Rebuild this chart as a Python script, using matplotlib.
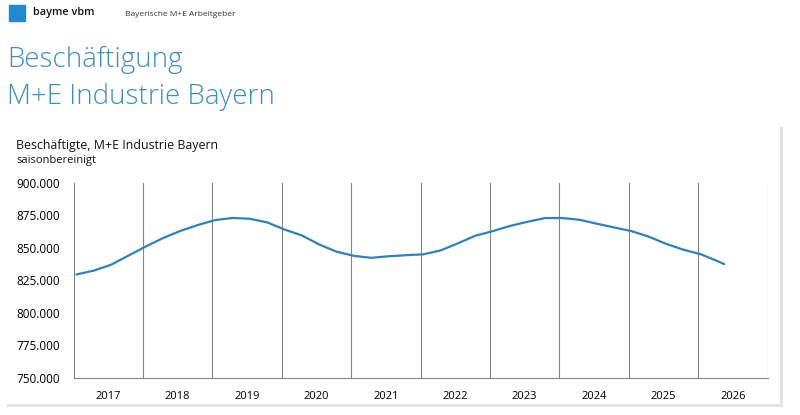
import matplotlib
matplotlib.use("Agg")
import matplotlib.pyplot as plt
import matplotlib.patches as mpatches
import numpy as np

plt.rcParams["font.family"] = ["Open Sans", "DejaVu Sans"]

C_LINE = "#2F80BB"
C_TITLE = "#3F8DBF"
C_LOGO = "#1F8AD2"
C_GRID = "#858585"

# quarterly readings, month index counted from Jan 2017
months = [0, 3, 6, 9, 12, 15, 18, 21, 24, 27, 30, 33, 36, 39, 42, 45, 48, 51, 54,
          57, 60, 63, 66, 69, 72, 75, 78, 81, 84, 87, 90, 93, 96, 99, 102, 105,
          108, 111, 112]
beschaeftigte = [829.5, 832.5, 837.0, 844.0, 851.0, 857.5, 863.0, 867.5, 871.3,
                 872.9, 872.3, 869.5, 864.0, 859.5, 852.5, 847.0, 843.8, 842.3,
                 843.5, 844.3, 845.0, 848.0, 853.5, 859.3, 862.8, 866.8, 870.0,
                 872.8, 872.9, 871.5, 868.5, 865.6, 862.8, 858.5, 853.0, 848.5,
                 845.0, 839.5, 837.5]  # in Tsd.
years = list(range(2017, 2027))
yticks = [750, 775, 800, 825, 850, 875, 900]

fig = plt.figure(figsize=(8, 4.15), dpi=100)
fig.patch.set_facecolor("white")

# header
fig.patches.append(mpatches.Rectangle((9 / 800, 1 - 21 / 415), 16 / 800, 16 / 415,
                                      transform=fig.transFigure, color=C_LOGO))
fig.text(33 / 800, 1 - 13 / 415, "bayme vbm", fontsize=7.8, fontweight="semibold",
         va="center", ha="left", color="#111111")
fig.text(125 / 800, 1 - 14 / 415, "Bayerische M+E Arbeitgeber", fontsize=6,
         va="center", ha="left", color="#333333")
fig.text(7 / 800, 1 - 60 / 415, "Beschäftigung", fontsize=20, fontweight="light",
         va="center", ha="left", color=C_TITLE)
fig.text(7 / 800, 1 - 97 / 415, "M+E Industrie Bayern", fontsize=20, fontweight="light",
         va="center", ha="left", color=C_TITLE)

# chart panel with soft shadow
fig.patches.append(mpatches.Rectangle((7 / 800, 1 - 407 / 415), 776 / 800, 280 / 415,
                                      transform=fig.transFigure, facecolor="#E4E4E4",
                                      edgecolor="none", zorder=-2))
fig.patches.append(mpatches.Rectangle((5 / 800, 1 - 404 / 415), 775 / 800, 279 / 415,
                                      transform=fig.transFigure, facecolor="white",
                                      edgecolor="none", zorder=-1))

fig.text(16 / 800, 1 - 145 / 415, "Beschäftigte, M+E Industrie Bayern", fontsize=8.9,
         va="center", ha="left", color="#111111")
fig.text(16 / 800, 1 - 160 / 415, "saisonbereinigt", fontsize=8,
         va="center", ha="left", color="#111111")

ax = fig.add_axes([73.5 / 800, 1 - 378 / 415, 694 / 800, 195.3 / 415])
ax.set_zorder(2)
ax.set_facecolor("none")

x = (np.array(months) + 0.5) / 12
ax.plot(x, beschaeftigte, color=C_LINE, lw=1.6, solid_capstyle="round", zorder=3)

ax.set_xlim(0, len(years))
ax.set_ylim(750, 900)
ax.set_yticks(yticks)
ax.set_yticklabels([f"{v}.000" for v in yticks], fontsize=8.5)
ax.set_xticks(np.arange(len(years)) + 0.5)
ax.set_xticklabels([str(y) for y in years], fontsize=8)
ax.tick_params(axis="both", length=0, pad=10)
ax.tick_params(axis="x", pad=9)

for b in range(1, len(years) + 1):
    ax.axvline(b, color=C_GRID, lw=0.8, zorder=1)

for s in ["top", "right"]:
    ax.spines[s].set_visible(False)
for s in ["left", "bottom"]:
    ax.spines[s].set_color(C_GRID)
    ax.spines[s].set_linewidth(0.8)

plt.savefig("out.png", dpi=100)
plt.close()
